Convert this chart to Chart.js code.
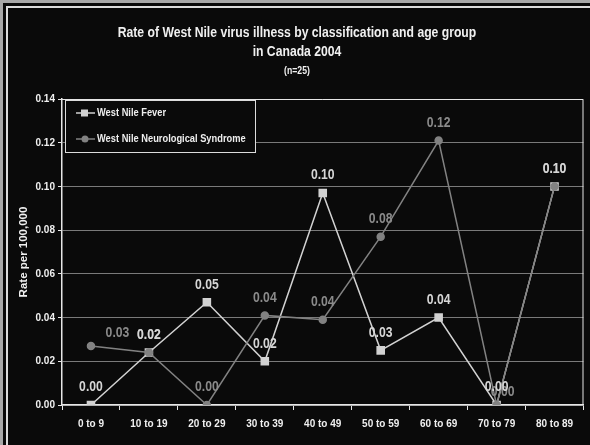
<!DOCTYPE html>
<html>
<head>
<meta charset="utf-8">
<script src="https://cdn.jsdelivr.net/npm/chart.js@4.4.1/dist/chart.umd.min.js"></script>
<style>
  body { margin: 0; background: #0a0a0a; }
  #wrap { position: absolute; left: 0; top: 0; width: 590px; height: 445px; overflow: hidden; }
  #edge { position: absolute; left: 0; top: 0; width: 600px; height: 460px; border-left: 3px solid #a8a8a8; border-top: 3px solid #a8a8a8; }
  #frame { position: absolute; left: 6px; top: 6px; width: 600px; height: 460px; border-left: 2px solid #dcdcdc; border-top: 2px solid #dcdcdc; }
  canvas { position: absolute; left: 0; top: 0; }
</style>
</head>
<body>
<div id="wrap">
  <div id="edge"></div>
  <div id="frame"></div>
  <canvas id="chart" width="590" height="445"></canvas>
</div>
<script>
const ageGroups = ["0 to 9", "10 to 19", "20 to 29", "30 to 39", "40 to 49", "50 to 59", "60 to 69", "70 to 79", "80 to 89"];
const feverRates = [0.000, 0.024, 0.047, 0.020, 0.097, 0.025, 0.040, 0.000, 0.100];
const neuroRates = [0.027, 0.024, 0.000, 0.041, 0.039, 0.077, 0.121, 0.000, 0.100];
const titleLines = ["Rate of West Nile virus illness by classification and age group", "in Canada 2004"];
const subTitle = "(n=25)";

const FONT = '"Liberation Sans", Arial, sans-serif';
const NARROW = 0.87; // the original uses a condensed bold face
const feverColor = "#d2d2d2";
const neuroColor = "#828282";

function narrowText(ctx, text, x, y, align) {
    ctx.save();
    ctx.translate(x, y);
    ctx.scale(NARROW, 1);
    ctx.textAlign = align;
    ctx.fillText(text, 0, 0);
    ctx.restore();
}

// titles, tick labels, chart area border, legend box and value labels
const extras = {
    id: "extras",
    afterDraw(chart) {
        const ctx = chart.ctx;
        const a = chart.chartArea;
        const xs = chart.scales.x, ys = chart.scales.y;
        ctx.save();
        ctx.textBaseline = "middle";

        ctx.fillStyle = "#f0f0f0";
        ctx.font = "bold 14px " + FONT;
        titleLines.forEach((t, i) => narrowText(ctx, t, 297, 33 + i * 19.5, "center"));
        ctx.font = "bold 10px " + FONT;
        narrowText(ctx, subTitle, 297, 71, "center");

        ctx.font = "bold 11.5px " + FONT;
        ys.ticks.forEach(t => narrowText(ctx, t.value.toFixed(2), ys.right - 7, ys.getPixelForValue(t.value), "right"));
        ageGroups.forEach((g, i) => narrowText(ctx, g, xs.getPixelForValue(i), a.bottom + 19, "center"));

        ctx.strokeStyle = "#e6e6e6";
        ctx.lineWidth = 1;
        ctx.beginPath();
        ctx.moveTo(a.left, a.top + 0.5);
        ctx.lineTo(a.right - 0.5, a.top + 0.5);
        ctx.lineTo(a.right - 0.5, a.bottom);
        ctx.stroke();

        // value labels (neuro first, fever on top)
        ctx.font = "bold 14px " + FONT;
        [1, 0].forEach(i => {
            const ds = chart.data.datasets[i];
            const meta = chart.getDatasetMeta(i);
            const shift = ds.labelShift || {};
            ctx.fillStyle = ds.labelColor;
            meta.data.forEach((pt, j) => {
                const s = shift[j] || [0, -17.5];
                narrowText(ctx, ds.data[j].toFixed(2), pt.x + s[0], pt.y + s[1], "center");
            });
        });

        // legend
        const lx = 65, ly = 100, lw = 190, lh = 52;
        ctx.fillStyle = "#0a0a0a";
        ctx.fillRect(lx, ly, lw, lh);
        ctx.strokeStyle = "#dcdcdc";
        ctx.lineWidth = 1;
        ctx.strokeRect(lx + 0.5, ly + 0.5, lw, lh);
        ctx.font = "bold 10.7px " + FONT;
        chart.data.datasets.forEach((ds, i) => {
            const y = ly + 13 + i * 26;
            ctx.strokeStyle = ds.borderColor;
            ctx.lineWidth = 1.5;
            ctx.beginPath();
            ctx.moveTo(lx + 11, y);
            ctx.lineTo(lx + 30, y);
            ctx.stroke();
            ctx.fillStyle = ds.pointBackgroundColor;
            if (ds.pointStyle === "rect") {
                ctx.fillRect(lx + 16, y - 3.5, 7, 7);
            } else {
                ctx.beginPath();
                ctx.arc(lx + 20, y, 3.5, 0, Math.PI * 2);
                ctx.fill();
            }
            ctx.fillStyle = "#eeeeee";
            narrowText(ctx, ds.label, lx + 32, y, "left");
        });
        ctx.restore();
    }
};

new Chart(document.getElementById("chart"), {
    type: "line",
    data: {
        labels: ageGroups,
        datasets: [{
            label: "West Nile Fever",
            data: feverRates,
            borderColor: feverColor,
            backgroundColor: feverColor,
            pointBackgroundColor: feverColor,
            pointBorderColor: feverColor,
            pointStyle: "rect",
            pointRadius: 5,
            borderWidth: 1.5,
            labelColor: "#d6d6d6",
            order: 1
        }, {
            label: "West Nile Neurological Syndrome",
            data: neuroRates,
            borderColor: neuroColor,
            backgroundColor: neuroColor,
            pointBackgroundColor: neuroColor,
            pointBorderColor: neuroColor,
            pointStyle: "circle",
            pointRadius: 3.5,
            borderWidth: 1.5,
            labelColor: "#8a8a8a",
            labelShift: { 0: [26.5, -12.5], 7: [6, -13] },
            order: 0
        }]
    },
    options: {
        responsive: false,
        animation: false,
        layout: { padding: { left: 13, right: 5, top: 99, bottom: 0 } },
        plugins: {
            legend: { display: false },
            tooltip: { enabled: false },
            title: { display: false }
        },
        scales: {
            x: {
                offset: true,
                afterFit: s => { s.height = 40; },
                grid: { offset: true, drawOnChartArea: false, tickLength: 5, tickColor: "#e6e6e6" },
                border: { color: "#e6e6e6", width: 1.5 },
                ticks: { display: false }
            },
            y: {
                min: 0,
                max: 0.14,
                afterFit: s => { s.width = 49; },
                ticks: { display: false, stepSize: 0.02 },
                grid: { color: "#7a7a7a", tickColor: "#e6e6e6", tickLength: 4 },
                border: { color: "#e6e6e6", width: 1.5 },
                title: {
                    display: true,
                    text: "Rate per 100,000",
                    color: "#f0f0f0",
                    padding: { top: 4, bottom: 0 },
                    font: { family: FONT, size: 11.5, weight: "bold" }
                }
            }
        }
    },
    plugins: [extras]
});
</script>
</body>
</html>
